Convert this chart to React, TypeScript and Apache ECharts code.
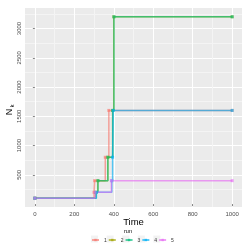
import React, { useEffect, useRef } from "react";
import * as echarts from "echarts";

const runNames = ["1", "2", "3", "4", "5"];
const runColors = ["#F8766D", "#A3A500", "#00BF7D", "#00B0F6", "#E76BF3"];

const run1Time = [0, 300, 303, 357, 375, 1000];
const run1N = [100, 200, 400, 800, 1600, 1600];
const run2Time = [0, 308, 319, 370, 394, 400, 1000];
const run2N = [100, 200, 400, 800, 1600, 3200, 3200];
const run3Time = [0, 310, 320, 370, 395, 401, 1000];
const run3N = [100, 200, 400, 800, 1600, 3200, 3200];
const run4Time = [0, 312, 390, 394, 397, 1000];
const run4N = [100, 200, 400, 800, 1600, 1600];
const run5Time = [0, 305, 388, 1000];
const run5N = [100, 200, 400, 400];

const xMajor = [0, 200, 400, 600, 800, 1000];
const xMinor = [100, 300, 500, 700, 900];
const yMajor = [500, 1000, 1500, 2000, 2500, 3000];
const yMinor = [250, 750, 1250, 1750, 2250, 2750, 3250];

const runTimes = [run1Time, run2Time, run3Time, run4Time, run5Time];
const runNs = [run1N, run2N, run3N, run4N, run5N];

const X_MIN = -50, X_MAX = 1050, Y_MIN = -50, Y_MAX = 3350, STEP = 50;

function gridColors(min: number, max: number, major: number[], minor: number[]) {
  const out: string[] = [];
  for (let v = min; v <= max + 1e-9; v += STEP) {
    if (major.includes(v)) out.push("#FFFFFF");
    else if (minor.includes(v)) out.push("#F4F4F4");
    else out.push("rgba(0,0,0,0)");
  }
  return out;
}

const FONT = "Liberation Sans, Arial, sans-serif";
const LEGEND_LEFT = 91;
const LEGEND_PITCH = 15.6;

export default function App() {
  const ref = useRef<HTMLDivElement>(null);
  useEffect(() => {
    if (!ref.current) return;
    const chart = echarts.init(ref.current, undefined, { renderer: "svg" });
    const series = runNames.map((name, i) => ({
      name,
      type: "line",
      step: "end",
      xAxisIndex: 0,
      yAxisIndex: 0,
      data: runTimes[i].map((t, j) => [t, runNs[i][j]]),
      symbol: "rect",
      symbolSize: 3,
      showAllSymbol: true,
      lineStyle: { color: runColors[i], width: 1.5, opacity: 0.65 },
      itemStyle: { color: runColors[i], opacity: 0.65 },
      emphasis: { disabled: true },
    }));
    const keyBoxes = runNames.map((_, i) => ({
      type: "rect",
      z: -1,
      shape: { x: LEGEND_LEFT + i * LEGEND_PITCH, y: 235.5, width: 7, height: 7 },
      style: { fill: "#F2F2F2" },
    }));
    chart.setOption({
      animation: false,
      textStyle: { fontFamily: FONT },
      grid: {
        left: 25,
        top: 8,
        width: 217,
        height: 199,
        show: true,
        backgroundColor: "#EBEBEB",
        borderWidth: 0,
        containLabel: false,
        outerBoundsMode: "none",
      },
      xAxis: [
        {
          type: "value",
          min: X_MIN,
          max: X_MAX,
          interval: STEP,
          axisLine: { show: false },
          axisTick: { show: false },
          axisLabel: {
            interval: 0,
            margin: 4,
            fontSize: 6,
            color: "#4D4D4D",
            fontFamily: FONT,
            formatter: (v: number) => (xMajor.includes(v) ? String(v) : ""),
          },
          splitLine: {
            show: true,
            lineStyle: { color: gridColors(X_MIN, X_MAX, xMajor, xMinor), width: 1 },
          },
        },
        {
          type: "value",
          min: X_MIN,
          max: X_MAX,
          position: "bottom",
          axisLine: { show: false },
          axisLabel: { show: false },
          splitLine: { show: false },
          axisTick: {
            show: true,
            length: 2,
            lineStyle: { color: "#333333", width: 0.6 },
            customValues: xMajor,
          },
        },
      ],
      yAxis: [
        {
          type: "value",
          min: Y_MIN,
          max: Y_MAX,
          interval: STEP,
          axisLine: { show: false },
          axisTick: { show: false },
          axisLabel: {
            interval: 0,
            rotate: 90,
            margin: 3,
            fontSize: 6,
            color: "#4D4D4D",
            fontFamily: FONT,
            formatter: (v: number) => (yMajor.includes(v) ? String(v) : ""),
          },
          splitLine: {
            show: true,
            lineStyle: { color: gridColors(Y_MIN, Y_MAX, yMajor, yMinor), width: 1 },
          },
        },
        {
          type: "value",
          min: Y_MIN,
          max: Y_MAX,
          position: "left",
          axisLine: { show: false },
          axisLabel: { show: false },
          splitLine: { show: false },
          axisTick: {
            show: true,
            length: 2,
            lineStyle: { color: "#333333", width: 0.6 },
            customValues: yMajor,
          },
        },
      ],
      legend: {
        data: runNames,
        orient: "horizontal",
        left: LEGEND_LEFT,
        top: 237.5,
        padding: 0,
        itemWidth: 7,
        itemHeight: 3,
        itemGap: 1,
        textStyle: { fontSize: 5, color: "#333333", fontFamily: FONT },
      },
      graphic: [
        ...keyBoxes,
        {
          type: "text",
          x: 133.5,
          y: 221,
          style: {
            text: "Time",
            fontSize: 9.5,
            fontFamily: FONT,
            fill: "#000000",
            align: "center",
            verticalAlign: "middle",
          },
        },
        {
          type: "text",
          x: 8.5,
          y: 112,
          rotation: Math.PI / 2,
          style: {
            text: "N",
            fontSize: 9,
            fontFamily: FONT,
            fill: "#000000",
            align: "center",
            verticalAlign: "middle",
          },
        },
        {
          type: "text",
          x: 11.5,
          y: 106,
          rotation: Math.PI / 2,
          style: {
            text: "k",
            fontSize: 6,
            fontFamily: FONT,
            fill: "#000000",
            align: "center",
            verticalAlign: "middle",
          },
        },
        {
          type: "text",
          x: 128,
          y: 231,
          style: {
            text: "run",
            fontSize: 5.5,
            fontFamily: FONT,
            fill: "#000000",
            align: "center",
            verticalAlign: "middle",
          },
        },
      ],
      series,
    });
    return () => chart.dispose();
  }, []);
  return (
    <div
      ref={ref}
      style={{ position: "fixed", left: 0, top: 0, width: 249, height: 249 }}
    />
  );
}
